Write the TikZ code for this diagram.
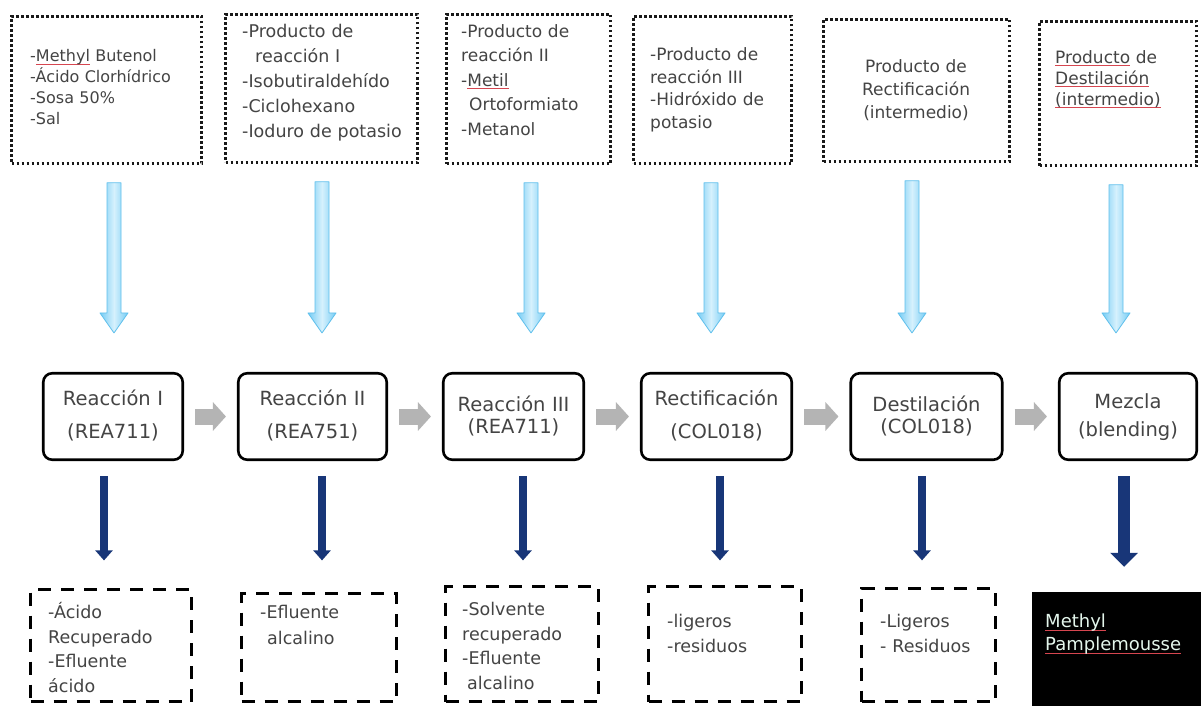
\documentclass[tikz,border=0pt]{standalone}
\usepackage{fontspec}
\setmainfont{DejaVu Sans}
\usetikzlibrary{arrows.meta,calc}

\definecolor{ink}{RGB}{68,68,68}
\definecolor{feedEdge}{RGB}{96,192,236}
\definecolor{feedSide}{RGB}{118,204,244}
\definecolor{feedMid}{RGB}{214,241,253}
\definecolor{outNavy}{RGB}{24,54,120}
\definecolor{stepGray}{RGB}{180,180,180}
\definecolor{spellRed}{RGB}{214,70,80}
\definecolor{mintWhite}{RGB}{228,246,236}

% red spell-check underline under a word
\newsavebox\spellbox
\newcommand\spelled[1]{\leavevmode\sbox\spellbox{#1}\rlap{\color{spellRed}\rule[-3pt]{\wd\spellbox}{1pt}}\usebox\spellbox}
\newcommand\setfs[2]{\fontsize{#1}{#2}\selectfont}

\tikzset{
  feedbox/.style={draw=black!90, line width=2.6pt, dash pattern=on 2.6pt off 2.4pt, inner sep=0pt},
  procbox/.style={draw=black, line width=2.6pt, rounded corners=9pt, inner sep=0pt, minimum height=86.5pt},
  wastebox/.style={draw=black, line width=3.2pt, dash pattern=on 13pt off 10pt, inner sep=0pt},
  productbox/.style={fill=black, inner sep=0pt},
  lefttext/.style={anchor=base west, inner sep=0pt, align=left, text width=175pt, text=ink},
  midtext/.style={anchor=base, inner sep=0pt, align=center, text width=160pt, text=ink},
  feedshape/.style={to path={let \p1=(\tikztostart), \p2=(\tikztotarget) in
     (\x1-7pt,\y1) -- (\x1+7pt,\y1) -- (\x1+7pt,\y2+20pt) -- (\x1+14pt,\y2+20pt)
     -- (\x1,\y2) -- (\x1-14pt,\y2+20pt) -- (\x1-7pt,\y2+20pt) -- cycle}},
  feedpaint/.style={draw=feedEdge, line width=0.8pt, line join=round,
     left color=feedSide, right color=feedSide, middle color=feedMid},
  outflow/.style={draw=outNavy, line width=8pt, -{Triangle[width=17pt,length=10pt]}},
  stepflow/.style={draw=stepGray, line width=16pt, -{Triangle[width=28pt,length=13pt]},
     shorten <=11pt, shorten >=11pt},
}

\begin{document}
\begin{tikzpicture}[x=1pt,y=-1pt]
\useasboundingbox (0,0) rectangle (1201,706);
\fill[white] (0,0) rectangle (1201,706);

% ---------- input boxes ----------
\node[feedbox, minimum width=190pt, minimum height=147pt] (in1) at (106.5,90) {};
\node[feedbox, minimum width=192pt, minimum height=148pt] (in2) at (321.5,88.5) {};
\node[feedbox, minimum width=164pt, minimum height=149pt] (in3) at (528.5,89) {};
\node[feedbox, minimum width=158pt, minimum height=147pt] (in4) at (712.5,90) {};
\node[feedbox, minimum width=186pt, minimum height=142pt] (in5) at (916.5,90.5) {};
\node[feedbox, minimum width=157pt, minimum height=144pt] (in6) at (1118,93.5) {};

\node[lefttext, font=\setfs{16}{21}] (in1t) at (30,62)
  {-\spelled{Methyl} Butenol\\-Ácido Clorhídrico\\-Sosa 50\%\\-Sal};
\node[lefttext, font=\setfs{17.5}{25}] (in2t) at (242,37.5)
  {-Producto de\\\hspace*{13pt}reacción I\\-Isobutiraldehído\\-Ciclohexano\\-Ioduro de potasio};
\node[lefttext, font=\setfs{17}{24.5}] (in3t) at (461,37.5)
  {-Producto de\\reacción II\\-\spelled{Metil}\\\hspace*{8pt}Ortoformiato\\-Metanol};
\node[lefttext, font=\setfs{17}{22.7}] (in4t) at (650,60.5)
  {-Producto de\\reacción III\\-Hidróxido de\\potasio};
\node[midtext, font=\setfs{17}{23}] (in5t) at (916,72.5)
  {Producto de\\Rectificación\\(intermedio)};
\node[lefttext, font=\setfs{17}{21}] (in6t) at (1055,63.5)
  {\spelled{Producto} de\\\spelled{Destilación}\\\spelled{(intermedio)}};

% ---------- process steps ----------
\node[procbox, minimum width=139.5pt] (pr1) at (113,416.5) {};
\node[procbox, minimum width=148.5pt] (pr2) at (312.5,416.5) {};
\node[procbox, minimum width=140.5pt] (pr3) at (513.5,416.5) {};
\node[procbox, minimum width=150.5pt] (pr4) at (716.5,416.5) {};
\node[procbox, minimum width=151.5pt] (pr5) at (926.5,416.5) {};
\node[procbox, minimum width=137.5pt] (pr6) at (1128,416.5) {};

\node[midtext, font=\setfs{19.5}{33}] (pr1t) at (113,405) {Reacción I\\(REA711)};
\node[midtext, font=\setfs{19.5}{33}] (pr2t) at (312.5,405) {Reacción II\\(REA751)};
\node[midtext, font=\setfs{19.5}{22}] (pr3t) at (513.5,411) {Reacción III\\(REA711)};
\node[midtext, font=\setfs{19.5}{33}] (pr4t) at (716.5,405) {Rectificación\\(COL018)};
\node[midtext, font=\setfs{19.5}{22}] (pr5t) at (926.5,411) {Destilación\\(COL018)};
\node[midtext, font=\setfs{19.5}{28}] (pr6t) at (1128,408) {Mezcla\\(blending)};

% ---------- outputs ----------
\node[wastebox, minimum width=161pt, minimum height=112pt] (out1) at (111,645.5) {};
\node[wastebox, minimum width=155pt, minimum height=108pt] (out2) at (319,647.5) {};
\node[wastebox, minimum width=153pt, minimum height=115pt] (out3) at (522,644) {};
\node[wastebox, minimum width=153pt, minimum height=115pt] (out4) at (725,644) {};
\node[wastebox, minimum width=134pt, minimum height=113pt] (out5) at (928.5,645) {};
\node[productbox, minimum width=178pt, minimum height=123pt] (out6) at (1121,653.5) {};

\node[lefttext, font=\setfs{17.5}{24.7}] (out1t) at (48,618.5)
  {-Ácido\\Recuperado\\-Efluente\\ácido};
\node[lefttext, font=\setfs{17.5}{26}] (out2t) at (260,618.5)
  {-Efluente\\\hspace*{7pt}alcalino};
\node[lefttext, font=\setfs{17.5}{24.5}] (out3t) at (462,615.5)
  {-Solvente\\recuperado\\-Efluente\\\hspace*{5pt}alcalino};
\node[lefttext, font=\setfs{17.5}{25}] (out4t) at (667,627.5)
  {-ligeros\\-residuos};
\node[lefttext, font=\setfs{17.5}{25}] (out5t) at (880,627.5)
  {-Ligeros\\- Residuos};
\node[lefttext, font=\setfs{18}{23}, text=mintWhite] (out6t) at (1045,627.5)
  {\spelled{Methyl}\\\spelled{Pamplemousse}};

% ---------- feeds into each step ----------
\foreach \i/\dx in {1/7.5,2/0.5,3/2.5,4/-1.5,5/-4.5,6/-2}
  \shadedraw[feedpaint] ($(in\i.south)+(\dx,18)$) to[feedshape] ($(pr\i.north)+(\dx,-39)$);

% ---------- sequence between steps ----------
\foreach \a/\b in {1/2,2/3,3/4,4/5,5/6}
  \draw[stepflow] (pr\a) -- (pr\b);

% ---------- streams leaving each step ----------
\foreach \i/\dx/\gap in {1/-9/27.5,2/9.5/31.5,3/9.5/24.5,4/3.5/24.5,5/-4.5/26.5}
  \draw[outflow, shorten >=\gap pt] ($(pr\i.south)+(\dx,15)$) coordinate (o\i) -- (o\i |- out\i.north);
\draw[outflow, line width=12pt, -{Triangle[width=27pt,length=14pt]}, shorten >=25pt]
  ($(pr6.south)+(-4,15)$) coordinate (o6) -- (o6 |- out6.north);

\end{tikzpicture}
\end{document}
